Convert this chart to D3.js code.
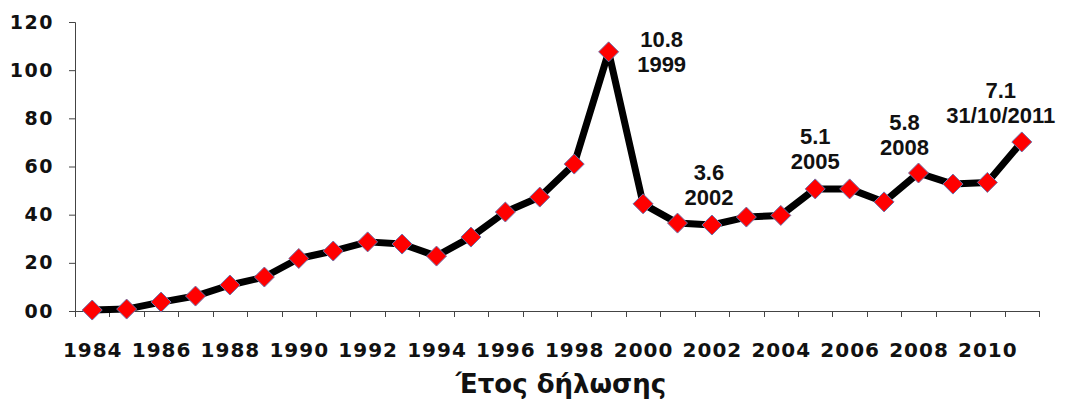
<!DOCTYPE html>
<html>
<head>
<meta charset="utf-8">
<script src="https://cdn.jsdelivr.net/npm/d3@7"></script>
<style>
  html, body { margin: 0; padding: 0; background: #fff; }
  svg { display: block; }
</style>
</head>
<body>
<svg id="chart" width="1072" height="403"></svg>
<script>
// ---- data ----
const years = [1984,1985,1986,1987,1988,1989,1990,1991,1992,1993,1994,1995,1996,1997,
               1998,1999,2000,2001,2002,2003,2004,2005,2006,2007,2008,2009,2010,2011];
const values = [0.4,0.8,3.7,6.2,10.8,14.1,21.8,24.9,28.7,27.8,22.8,30.7,41.1,47.3,
                61.0,107.6,44.5,36.5,35.7,39.0,39.7,50.7,50.7,45.3,57.3,52.7,53.4,70.2];
const yTickValues = [0,20,40,60,80,100,120];
const yTickLabels = ["00","20","40","60","80","100","120"];
const xTickYears = [1984,1986,1988,1990,1992,1994,1996,1998,2000,2002,2004,2006,2008,2010];
const xTitle = "Έτος δήλωσης";
const annYears = [1999, 2002, 2005, 2008, 2011];
const annValues = ["10.8", "3.6", "5.1", "5.8", "7.1"];
const annDates = ["1999", "2002", "2005", "2008", "31/10/2011"];

// ---- layout (styling) ----
const annDx = [53, -3, 0, -14, -21];
const annDy = [-5, -45, -45, -43, -44];

const svg = d3.select("#chart");
const x = d3.scaleBand().domain(years).range([75, 1039]).paddingInner(0).paddingOuter(0);
const y = d3.scaleLinear().domain([0, 120]).range([311, 22]);
const cx = d => x(d) + x.bandwidth() / 2;

const axisFont = "'DejaVu Sans', Verdana, sans-serif";
const annFont = "'Liberation Sans', Arial, sans-serif";

// y axis
const yAxis = d3.axisLeft(y).tickValues(yTickValues)
  .tickFormat((d, i) => yTickLabels[i]).tickSize(6).tickPadding(15);
const gy = svg.append("g").attr("transform", "translate(75,0)").call(yAxis);
gy.select(".domain").attr("stroke", "#444").attr("stroke-width", 1);
gy.selectAll(".tick line").attr("stroke", "#444");
gy.selectAll("text").attr("font-family", axisFont).attr("font-weight", "bold")
  .attr("font-size", 19).attr("letter-spacing", 1.5).attr("fill", "#111");

// x axis: ticks on category boundaries
const boundaries = years.map(d => x(d)).concat([x(years[years.length - 1]) + x.bandwidth()]);
const gx = svg.append("g");
gx.append("line").attr("x1", 75).attr("x2", boundaries[boundaries.length - 1])
  .attr("y1", y(0) + 0.5).attr("y2", y(0) + 0.5).attr("stroke", "#444");
gx.selectAll("line.tk").data(boundaries).enter().append("line").attr("class", "tk")
  .attr("x1", d => Math.round(d) + 0.5).attr("x2", d => Math.round(d) + 0.5)
  .attr("y1", y(0)).attr("y2", y(0) + 6).attr("stroke", "#444");
gx.selectAll("text").data(xTickYears).enter().append("text")
  .attr("x", d => cx(d) + 0.5).attr("y", 357)
  .attr("text-anchor", "middle")
  .attr("font-family", axisFont).attr("font-weight", "bold")
  .attr("font-size", 20).attr("letter-spacing", 1).attr("fill", "#111")
  .text(d => d);

// x title
svg.append("text").attr("x", 561).attr("y", 393).attr("text-anchor", "middle")
  .attr("font-family", axisFont).attr("font-weight", "bold").attr("font-size", 26)
  .attr("fill", "#111").text(xTitle);

// line
const pts = years.map((d, i) => [cx(d), y(values[i])]);
svg.append("path").attr("d", d3.line()(pts))
  .attr("fill", "none").attr("stroke", "#000").attr("stroke-width", 7)
  .attr("stroke-linejoin", "round");

// markers
svg.selectAll("path.mk").data(pts).enter().append("path").attr("class", "mk")
  .attr("d", "M0,-10L10,0L0,10L-10,0Z")
  .attr("transform", d => `translate(${d[0]},${d[1]})`)
  .attr("fill", "#ff0000").attr("stroke", "#7070a8").attr("stroke-width", 1);

// annotations
annYears.forEach((yr, i) => {
  const idx = years.indexOf(yr);
  const px = cx(yr) + annDx[i];
  const py = y(values[idx]) + annDy[i];
  const t = svg.append("text").attr("text-anchor", "middle")
    .attr("font-family", annFont).attr("font-weight", "bold").attr("font-size", 22)
    .attr("fill", "#111");
  t.append("tspan").attr("x", px).attr("y", py).text(annValues[i]);
  t.append("tspan").attr("x", px).attr("y", py + 25).text(annDates[i]);
});
</script>
</body>
</html>
